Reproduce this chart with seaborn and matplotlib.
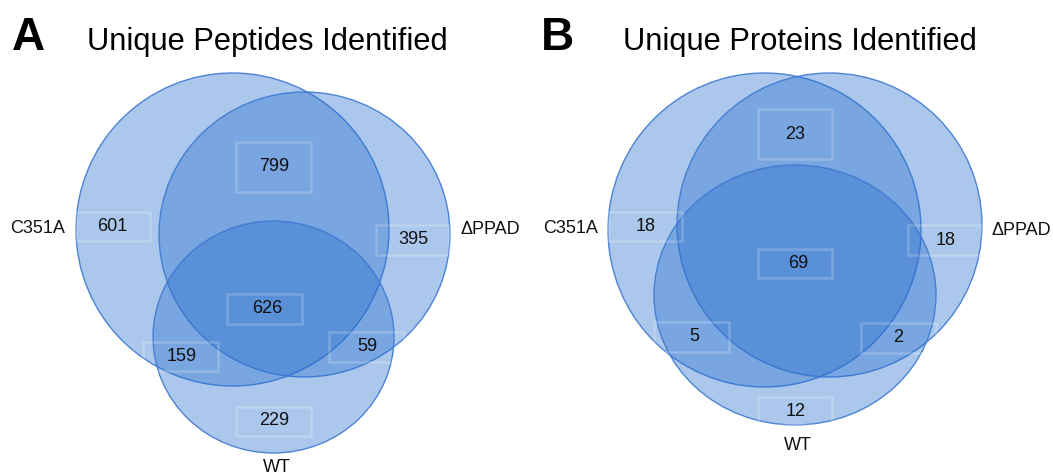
import matplotlib
matplotlib.use("Agg")
import matplotlib.pyplot as plt
from matplotlib.patches import Ellipse, Rectangle
import seaborn as sns

# ---- data -------------------------------------------------------------
set_names = ["C351A", "ΔPPAD", "WT"]
# region order: C351A only, C351A&ΔPPAD, ΔPPAD only, all three,
#               C351A&WT, ΔPPAD&WT, WT only
region_keys = ["100", "110", "010", "111", "101", "011", "001"]
peptide_counts = [601, 799, 395, 626, 159, 59, 229]
protein_counts = [18, 23, 18, 69, 5, 2, 12]
panel_letters = ["A", "B"]
panel_titles = ["Unique Peptides Identified", "Unique Proteins Identified"]

# ---- layout (figure pixels, y downwards) -------------------------------
W, H = 1053, 475
layouts = [
    dict(
        xlim=(0, W / 2),
        circles=[(232.5, 229.5, 313, 313), (304.5, 234.5, 291, 285), (273.5, 337, 241, 232)],
        boxes=[(76, 212, 74, 29), (236, 142, 75, 50), (376, 225, 73, 30), (227, 294, 75, 30),
               (143, 342, 75, 29), (329, 332, 75, 30), (236, 407, 75, 29)],
        text_xy=[(112, 224.5), (274, 164.5), (413.5, 238), (267.5, 307),
                 (181.5, 354.5), (367, 345), (274, 419)],
        set_label_xy=[(38, 227), (490, 228), (277, 465.5)],
        letter_xy=(28.5, 33.5), title_xy=(267, 39),
    ),
    dict(
        xlim=(W / 2, W),
        circles=[(764.5, 230, 313, 314), (829.5, 225, 305, 304), (795, 295, 282, 260)],
        boxes=[(608, 212, 74, 29), (758, 109, 74, 50), (908, 225, 74, 30), (758, 249, 74, 29),
               (654, 322, 75, 30), (861, 323, 75, 30), (758, 397, 74, 28)],
        text_xy=[(645.5, 224.5), (795.5, 132.5), (945.5, 239), (798, 261.5),
                 (694.5, 335), (898.5, 336), (795.5, 409.5)],
        set_label_xy=[(571, 227), (1021, 229), (798, 444)],
        letter_xy=(557, 33.5), title_xy=(800, 39),
    ),
]

sns.set_theme(style="white")
plt.rcParams["font.family"] = ["Liberation Sans", "DejaVu Sans"]

fill_color = "#266ecd"
edge_color = "#3d7ad2"
dpi = 100
num_pt = 13.0


def baseline(y_center, size_pt):
    """Baseline y for text whose cap/digit height is centred on y_center."""
    return y_center + 0.716 * size_pt * dpi / 72 / 2


fig = plt.figure(figsize=(W / dpi, H / dpi), dpi=dpi)
fig.patch.set_facecolor("white")

for i, (lay, counts) in enumerate(zip(layouts, [peptide_counts, protein_counts])):
    ax = fig.add_axes([i * 0.5, 0, 0.5, 1])
    ax.set_xlim(*lay["xlim"])
    ax.set_ylim(H, 0)
    ax.set_axis_off()

    for (cx, cy, w, h) in lay["circles"]:
        ax.add_patch(Ellipse((cx, cy), w, h, facecolor=fill_color, alpha=0.38,
                             edgecolor="none", clip_on=False))
        ax.add_patch(Ellipse((cx, cy), w, h, facecolor="none", edgecolor=edge_color,
                             linewidth=1.0, alpha=0.9, clip_on=False))

    for (bx, by, bw, bh), (tx, ty), val in zip(lay["boxes"], lay["text_xy"], counts):
        ax.add_patch(Rectangle((bx, by), bw, bh, facecolor="none", edgecolor="white",
                               linewidth=1.8, alpha=0.2, clip_on=False))
        ax.text(tx, baseline(ty, num_pt), str(val), ha="center", va="baseline",
                fontsize=num_pt, color="#111111", clip_on=False)

    for name, (lx, ly) in zip(set_names, lay["set_label_xy"]):
        ax.text(lx, baseline(ly, num_pt), name, ha="center", va="baseline",
                fontsize=num_pt, color="#111111", clip_on=False)

    lx, ly = lay["letter_xy"]
    ax.text(lx, baseline(ly, 33), panel_letters[i], ha="center", va="baseline",
            fontsize=33, fontweight="bold", color="black", clip_on=False)
    tx, ty = lay["title_xy"]
    ax.text(tx, baseline(ty, 22.2), panel_titles[i], ha="center", va="baseline",
            fontsize=22.2, color="black", clip_on=False)

fig.savefig("out.png", dpi=dpi, facecolor="white")
